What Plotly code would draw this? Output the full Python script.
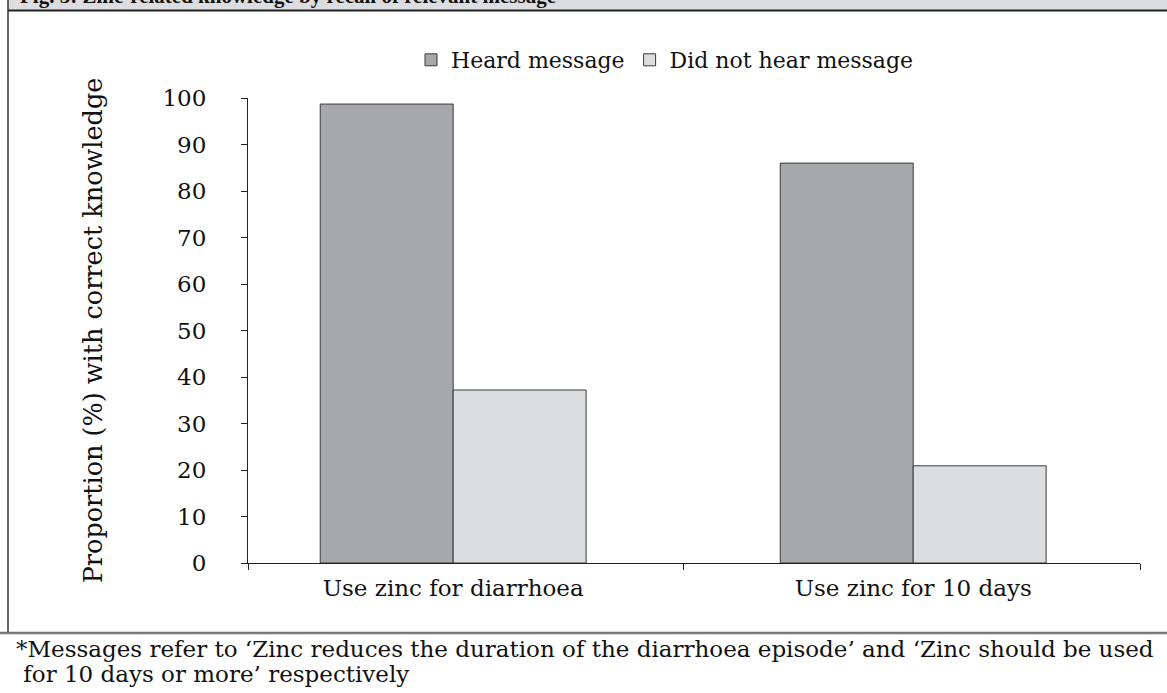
import plotly.graph_objects as go

categories = ["Use zinc for diarrhoea", "Use zinc for 10 days"]
heard = [98.7, 86.0]
not_heard = [37.2, 20.9]
series_names = ["Heard message", "Did not hear message"]
y_ticks = [0, 10, 20, 30, 40, 50, 60, 70, 80, 90, 100]
title_text = "Fig. 3: Zinc-related knowledge by recall of relevant message"
footnote_lines = [
    "*Messages refer to \u2018Zinc reduces the duration of the diarrhoea episode\u2019 and \u2018Zinc should be used",
    " for 10 days or more\u2019 respectively",
]

W, H = 1167, 693
L, R, T, B = 248, 27, 98, 130
pw, ph = W - L - R, H - T - B

def px(x):
    return (x - L) / pw

def py(y):
    return (H - B - y) / ph

xpos = list(range(len(categories)))
serif = "DejaVu Serif"

fig = go.Figure()
fig.add_trace(go.Bar(x=xpos, y=heard, name=series_names[0], width=0.289, offset=-0.289,
                     marker=dict(color="#a7a8ab", line=dict(color="#3a3a3a", width=1))))
fig.add_trace(go.Bar(x=xpos, y=not_heard, name=series_names[1], width=0.289, offset=0,
                     marker=dict(color="#dcdddf", line=dict(color="#3a3a3a", width=1))))

fig.update_layout(
    width=W, height=H,
    margin=dict(l=L, r=R, t=T, b=B),
    paper_bgcolor="white", plot_bgcolor="white",
    barmode="overlay",
    showlegend=True,
    legend=dict(orientation="h", x=px(665), xanchor="center", y=py(60), yanchor="middle",
                font=dict(family=serif, size=22, color="#111"),
                itemwidth=30, traceorder="normal", bgcolor="rgba(0,0,0,0)"),
    font=dict(family=serif, color="#111"),
)

fig.update_xaxes(
    range=[-0.446, 1.493], tickvals=xpos, ticktext=categories, ticks="",
    showline=True, linecolor="#222", linewidth=1, showgrid=False, zeroline=False,
    tickfont=dict(family=serif, size=23, color="#111"), ticklabelstandoff=4,
    minor=dict(tickvals=[-0.446, 0.5, 1.493], ticks="outside", ticklen=6, tickcolor="#222", showgrid=False),
)
fig.update_yaxes(
    range=[0, 100], tickvals=y_ticks, ticks="outside", ticklen=6, tickcolor="#222",
    showline=True, linecolor="#222", linewidth=1, showgrid=False, zeroline=False,
    tickfont=dict(family=serif, size=23, color="#111"), ticklabelstandoff=30,
    title=dict(text="Proportion (%) with correct knowledge", standoff=52,
               font=dict(family=serif, size=25.5, color="#111")),
)

shapes = [
    dict(type="rect", xref="paper", yref="paper", x0=px(8), x1=px(1180), y0=py(10), y1=py(-20),
         fillcolor="#dcdde0", line=dict(width=0), layer="below"),
    dict(type="line", xref="paper", yref="paper", x0=px(8), x1=px(1180), y0=py(10.5), y1=py(10.5),
         line=dict(color="#222", width=2)),
    dict(type="line", xref="paper", yref="paper", x0=px(8), x1=px(8), y0=py(-20), y1=py(633),
         line=dict(color="#333", width=1.5)),
    dict(type="line", xref="paper", yref="paper", x0=px(-10), x1=px(1180), y0=py(633), y1=py(633),
         line=dict(color="#777", width=2.5)),
]
fig.update_layout(shapes=shapes)

fig.add_annotation(text="<b>" + title_text + "</b>", xref="paper", yref="paper",
                   x=px(18), y=py(10), xanchor="left", yanchor="bottom", showarrow=False,
                   font=dict(family="Liberation Serif", size=21, color="#111"))
for i, line in enumerate(footnote_lines):
    fig.add_annotation(text=line, xref="paper", yref="paper", align="left",
                       x=px(14), y=py(649 + 25 * i), xanchor="left", yanchor="middle", showarrow=False,
                       font=dict(family=serif, size=23, color="#111"))

fig.write_html("out.html", config={"displayModeBar": False},
               post_script="document.body.style.margin='0';")
